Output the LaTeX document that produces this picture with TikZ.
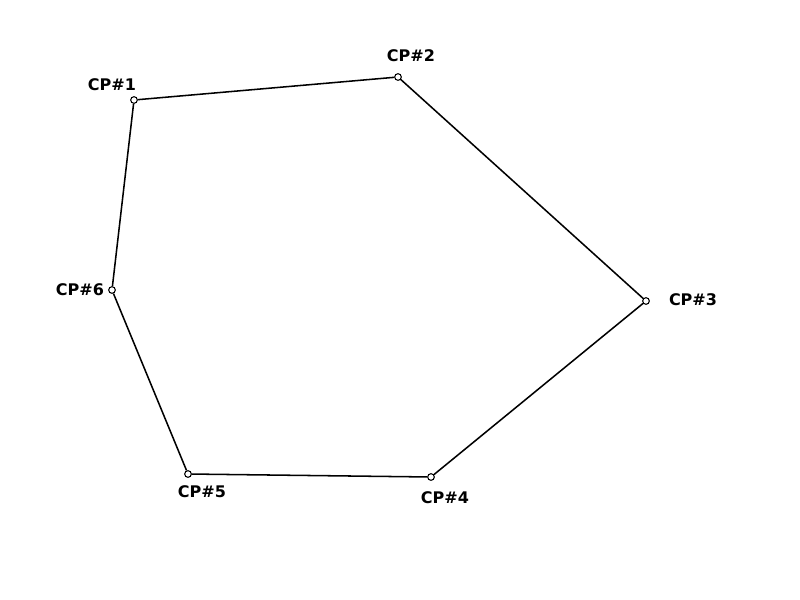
\documentclass[tikz,border=0pt]{standalone}
\usepackage{fontspec}
\setmainfont{DejaVu Sans}
\tikzset{
	cp/.style={circle, draw, thick, inner sep=0pt, minimum size=5pt},
	cplabel/.style={font=\fontsize{12}{14}\selectfont\bfseries},
}
\begin{document}
\begin{tikzpicture}[x=0.75pt, y=-0.75pt, line width=1.15pt]
	\useasboundingbox (0,0) rectangle (800,600);
	\node [cp] (cp1) at (134,100) {};
	\node [cp] (cp2) at (398,77) {};
	\node [cp] (cp3) at (646,301) {};
	\node [cp] (cp4) at (431,477) {};
	\node [cp] (cp5) at (188,474) {};
	\node [cp] (cp6) at (112,290) {};
	\node [cplabel] (l1) at (112,85) {CP\#1};
	\node [cplabel] (l2) at (411,56) {CP\#2};
	\node [cplabel] (l3) at (693,300) {CP\#3};
	\node [cplabel] (l4) at (445,498) {CP\#4};
	\node [cplabel] (l5) at (202,492) {CP\#5};
	\node [cplabel] (l6) at (80,290) {CP\#6};
	\draw (cp1) -- (cp2) -- (cp3) -- (cp4) -- (cp5) -- (cp6) -- (cp1);
\end{tikzpicture}
\end{document}
